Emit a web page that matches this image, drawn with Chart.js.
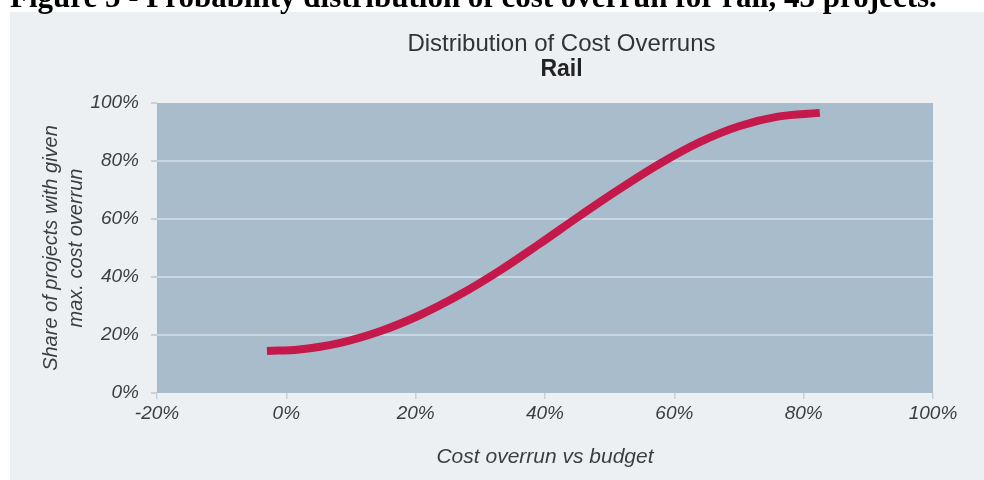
<!DOCTYPE html>
<html>
<head>
<meta charset="utf-8">
<title>Distribution of Cost Overruns - Rail</title>
<script src="https://cdn.jsdelivr.net/npm/chart.js@4.4.1/dist/chart.umd.min.js"></script>
<style>
  html, body { margin: 0; padding: 0; background: #fff; overflow: hidden; }
  body { width: 984px; height: 480px; position: relative; }
  #caption {
    position: absolute; left: 10px; top: -19px; z-index: 2;
    font: bold 31px "Liberation Serif", "DejaVu Serif", serif;
    line-height: 31px; white-space: nowrap; color: #000;
  }
  #panel {
    position: absolute; left: 10px; top: 12px; width: 974px; height: 468px;
    background: #edf0f3;
  }
  #chart { display: block; }
</style>
</head>
<body>
<div id="caption">Figure 5 - Probability distribution of cost overrun for rail, 43 projects.</div>
<div id="panel"><canvas id="chart" width="974" height="468"></canvas></div>
<script>
// values
const overrun = [-3, 2, 8, 14.5, 20.7, 27, 33, 39, 45.5, 51.5, 58, 64, 70, 76, 82.5];   // cost overrun vs budget, %
const share = [14.5, 15, 17.1, 21.3, 26.9, 34.1, 42.2, 51.2, 61.3, 70.3, 79.4, 86.6, 92, 95.3, 96.6]; // share of projects, %
const xTicks = [-20, 0, 20, 40, 60, 80, 100];
const yTicks = [0, 20, 40, 60, 80, 100];
const chartTitle = 'Distribution of Cost Overruns';
const chartSubtitle = 'Rail';

const textColor = '#3d3d3d';
const tickFont = { family: 'Liberation Sans', size: 19, style: 'italic' };

// fills the plot area before anything else is drawn
const plotBg = {
  id: 'plotBg',
  beforeDraw(chart) {
    const { ctx, chartArea: a } = chart;
    ctx.save();
    ctx.fillStyle = '#a9bccb';
    ctx.fillRect(a.left, a.top, a.right - a.left, a.bottom - a.top);
    ctx.restore();
  }
};

// the original centres its headings a bit right of the canvas centre
const shiftTitles = {
  id: 'shiftTitles',
  afterLayout(chart) {
    const dx = 90;
    chart.boxes.forEach(b => {
      const t = b.options && b.options.text;
      if (t === chartTitle || t === chartSubtitle) {
        b.left += dx;
        b.right += dx;
      }
    });
  }
};

new Chart(document.getElementById('chart'), {
  type: 'scatter',
  data: {
    datasets: [{
      label: 'Rail',
      data: overrun.map((x, i) => ({ x: x, y: share[i] })),
      showLine: true,
      borderColor: '#c5194b',
      borderWidth: 8,
      borderCapStyle: 'butt',
      pointRadius: 0,
      tension: 0.4
    }]
  },
  options: {
    responsive: false,
    devicePixelRatio: 1,
    animation: false,
    layout: { padding: { left: 0, right: 51, top: 0, bottom: 0 } },
    plugins: {
      legend: { display: false },
      tooltip: { enabled: false },
      title: {
        display: true,
        text: chartTitle,
        color: '#333',
        font: { family: 'Liberation Sans', size: 24, weight: 'normal', lineHeight: 1.0 },
        padding: { top: 20, bottom: 0 }
      },
      subtitle: {
        display: true,
        text: chartSubtitle,
        color: '#222',
        font: { family: 'Liberation Sans', size: 23, weight: 'bold', lineHeight: 1.0 },
        padding: { top: 2, bottom: 22 }
      }
    },
    scales: {
      x: {
        type: 'linear',
        min: xTicks[0],
        max: xTicks[xTicks.length - 1],
        afterBuildTicks: (scale) => { scale.ticks = xTicks.map(v => ({ value: v })); },
        afterFit: (scale) => { scale.height = 87; },
        ticks: { callback: v => v + '%', color: textColor, font: tickFont, padding: 3, maxRotation: 0 },
        grid: { drawOnChartArea: false, drawTicks: true, tickLength: 6, tickColor: '#c9d0d7', lineWidth: 1.5 },
        border: { display: false },
        title: {
          display: true,
          text: 'Cost overrun vs budget',
          color: textColor,
          font: { family: 'Liberation Sans', size: 21, style: 'italic' },
          padding: { top: 0, bottom: 10 }
        }
      },
      y: {
        min: yTicks[0],
        max: yTicks[yTicks.length - 1],
        afterBuildTicks: (scale) => { scale.ticks = yTicks.map(v => ({ value: v })); },
        afterFit: (scale) => { scale.width = 147; },
        ticks: { callback: v => v + '%', color: textColor, font: tickFont, padding: 12 },
        grid: {
          color: ctx => (ctx.tick && (ctx.tick.value === 0 || ctx.tick.value === 100)) ? 'rgba(0,0,0,0)' : '#c8d6e0',
          lineWidth: 2,
          tickLength: 6,
          tickColor: '#c9d0d7'
        },
        border: { display: false },
        title: {
          display: true,
          text: ['Share of projects with given', 'max. cost overrun'],
          color: textColor,
          font: { family: 'Liberation Sans', size: 20, style: 'italic', lineHeight: 1.25 },
          padding: { top: 29, bottom: 0 }
        }
      }
    }
  },
  plugins: [plotBg, shiftTitles]
});
</script>
</body>
</html>
